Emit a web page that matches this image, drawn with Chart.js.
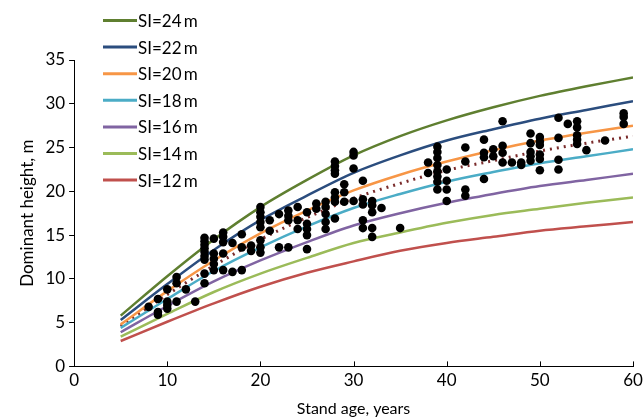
<!DOCTYPE html>
<html>
<head>
<meta charset="utf-8">
<script src="https://cdn.jsdelivr.net/npm/chart.js@4/dist/chart.umd.min.js"></script>
<style>
  html, body { margin: 0; padding: 0; background: #fff; }
</style>
</head>
<body>
<canvas id="chart" width="643" height="418"></canvas>
<script>
// site index curves, read at 5-year steps
const ages = [5, 10, 15, 20, 25, 30, 35, 40, 45, 50, 55, 60];
const si24 = [5.8, 10.3, 14.5, 18.2, 21.3, 24.1, 26.3, 28.1, 29.6, 30.9, 32.0, 33.0];
const si22 = [5.3, 9.4, 13.3, 16.7, 19.5, 22.1, 24.1, 25.8, 27.1, 28.3, 29.3, 30.3];
const si20 = [4.8, 8.6, 12.1, 15.2, 17.8, 20.1, 21.9, 23.4, 24.7, 25.8, 26.7, 27.5];
const si18 = [4.4, 7.7, 10.9, 13.6, 16.0, 18.1, 19.7, 21.1, 22.2, 23.2, 24.0, 24.8];
const si16 = [3.9, 6.9, 9.7, 12.1, 14.2, 16.1, 17.5, 18.7, 19.7, 20.6, 21.3, 22.0];
const si14 = [3.4, 6.0, 8.5, 10.6, 12.4, 14.1, 15.3, 16.4, 17.3, 18.0, 18.7, 19.3];
const si12 = [2.9, 5.1, 7.2, 9.1, 10.7, 12.0, 13.2, 14.1, 14.8, 15.5, 16.0, 16.5];
const meanCurve = [4.6, 8.2, 11.5, 14.5, 17.0, 19.2, 20.9, 22.4, 23.5, 24.6, 25.5, 26.3];

// observed plots
const obsAge = [
  8, 9, 9, 9, 10, 10, 10, 10, 11, 11, 11, 12, 13,
  14, 14, 14, 14, 14, 14, 14, 14, 14,
  15, 15, 15, 15, 15, 16, 16, 16, 16, 16, 17, 17, 18, 18, 18, 19, 19,
  20, 20, 20, 20, 20, 20, 20, 20, 21, 21, 22, 22, 23, 23, 23, 23,
  24, 24, 24, 25, 25, 25, 25, 25, 26, 26, 27, 27, 27, 27, 27,
  28, 28, 28, 28, 28, 28, 28, 28, 29, 29, 29, 30, 30, 30, 30,
  31, 31, 31, 31, 31, 32, 32, 32, 32, 32, 33, 35, 38, 38,
  39, 39, 39, 39, 39, 39, 39, 39, 40, 40, 40, 40, 42, 42, 42, 42,
  44, 44, 44, 44, 45, 45, 46, 46, 46, 46, 47, 48, 48,
  49, 49, 49, 49, 49, 50, 50, 50, 50, 50, 50,
  52, 52, 52, 52, 53, 54, 54, 54, 54, 54, 55, 57, 59, 59, 59
];
const obsHeight = [
  6.8, 7.7, 6.2, 5.9, 8.8, 7.4, 7.0, 6.6, 10.2, 9.5, 7.4, 8.8, 7.4,
  14.7, 14.3, 13.9, 13.5, 13.1, 12.6, 12.2, 10.6, 9.5,
  14.6, 12.9, 12.3, 11.7, 11.0, 15.3, 14.8, 14.2, 12.9, 11.0, 14.1, 10.8, 15.1, 13.6, 11.0, 13.8, 13.2,
  18.2, 17.6, 17.1, 16.5, 15.9, 14.4, 13.6, 13.0, 16.7, 15.5, 17.4, 13.6, 17.8, 17.2, 16.7, 13.6,
  18.2, 16.7, 15.7, 17.6, 16.3, 15.7, 15.0, 13.4, 18.6, 18.0, 18.8, 18.2, 17.4, 16.5, 15.7,
  23.4, 22.9, 22.4, 22.0, 19.9, 19.3, 18.8, 16.9, 20.8, 19.9, 18.8, 24.5, 24.1, 22.6, 18.9,
  21.2, 19.1, 18.5, 16.7, 15.8, 18.9, 18.4, 17.6, 15.8, 14.8, 18.1, 15.8, 23.3, 22.1,
  25.1, 24.5, 23.8, 23.0, 22.3, 21.7, 21.1, 20.2, 22.5, 21.2, 20.2, 18.9, 25.0, 23.4, 20.2, 19.5,
  25.9, 24.4, 23.9, 21.4, 24.8, 24.0, 28.0, 25.2, 24.4, 23.3, 23.3, 23.3, 23.0,
  26.6, 25.5, 24.5, 24.0, 23.5, 26.2, 25.7, 25.3, 24.2, 23.7, 22.4,
  28.4, 26.1, 23.6, 22.5, 27.7, 28.0, 27.3, 26.4, 25.9, 25.4, 24.7, 25.8, 28.9, 28.5, 27.7
];

const xTicks = [0, 10, 20, 30, 40, 50, 60];
const yTicks = [0, 5, 10, 15, 20, 25, 30, 35];

const FONT = "Lato, 'Liberation Sans', sans-serif";

function curve(label, values, color, dash) {
  return {
    type: "line",
    label: label,
    data: ages.map((a, i) => ({ x: a, y: values[i] })),
    borderColor: color,
    backgroundColor: color,
    borderWidth: dash ? 3 : 2.5,
    borderDash: dash || [],
    pointRadius: 0,
    fill: false,
    cubicInterpolationMode: "monotone",
    order: 2,
    inLegend: !dash,
  };
}

const curves = [
  curve("SI=24\u2009m", si24, "#5F7F30"),
  curve("SI=22\u2009m", si22, "#2B4D7E"),
  curve("SI=20\u2009m", si20, "#F79646"),
  curve("SI=18\u2009m", si18, "#4BACC6"),
  curve("SI=16\u2009m", si16, "#8064A2"),
  curve("SI=14\u2009m", si14, "#9BBB59"),
  curve("SI=12\u2009m", si12, "#C0504D"),
  curve("mean", meanCurve, "#7A2B2B", [2, 5]),
];

// legend sitting over the plot, top left
const sideLegend = {
  id: "sideLegend",
  afterDraw(chart) {
    const ctx = chart.ctx;
    ctx.save();
    ctx.font = "17px " + FONT;
    ctx.textBaseline = "middle";
    ctx.textAlign = "left";
    let row = 0;
    chart.data.datasets.forEach((ds) => {
      if (!ds.inLegend) return;
      const y = 20.5 + row * 26.6;
      ctx.strokeStyle = ds.borderColor;
      ctx.lineWidth = 3;
      ctx.beginPath();
      ctx.moveTo(103, y);
      ctx.lineTo(137, y);
      ctx.stroke();
      ctx.fillStyle = "#000";
      ctx.fillText(ds.label, 138, y + 1);
      row++;
    });
    ctx.restore();
  },
};

// x ticks point up into the plot
const innerTicks = {
  id: "innerTicks",
  afterDraw(chart) {
    const ctx = chart.ctx;
    const xs = chart.scales.x;
    const bottom = chart.chartArea.bottom;
    ctx.save();
    ctx.strokeStyle = "#000";
    ctx.lineWidth = 1;
    xTicks.forEach((v) => {
      const px = Math.round(xs.getPixelForValue(v)) + 0.5;
      ctx.beginPath();
      ctx.moveTo(px, bottom);
      ctx.lineTo(px, bottom - 5);
      ctx.stroke();
    });
    ctx.restore();
  },
};

new Chart(document.getElementById("chart").getContext("2d"), {
  type: "scatter",
  data: {
    datasets: [
      {
        type: "scatter",
        label: "observed",
        data: obsAge.map((a, i) => ({ x: a, y: obsHeight[i] })),
        backgroundColor: "#000",
        borderColor: "#000",
        pointRadius: 4.3,
        pointBorderWidth: 0,
        order: 1,
        inLegend: false,
      },
      ...curves,
    ],
  },
  options: {
    responsive: false,
    animation: false,
    layout: { padding: { top: 60, right: 0, left: 17, bottom: 0 } },
    plugins: {
      legend: { display: false },
      tooltip: { enabled: false },
    },
    scales: {
      x: {
        type: "linear",
        min: 0,
        max: 60,
        afterBuildTicks: (s) => { s.ticks = xTicks.map((v) => ({ value: v })); },
        afterFit: (s) => { s.paddingRight = 10; },
        grid: { display: false, drawTicks: false },
        border: { display: true, color: "#000", width: 1 },
        ticks: { color: "#000", font: { family: FONT, size: 17 }, padding: 4 },
        title: {
          display: true,
          text: "Stand age, years",
          color: "#000",
          font: { family: FONT, size: 16 },
          padding: { top: 4, bottom: 0 },
        },
      },
      y: {
        type: "linear",
        min: 0,
        max: 35,
        afterBuildTicks: (s) => { s.ticks = yTicks.map((v) => ({ value: v })); },
        grid: { drawOnChartArea: false, tickLength: 5, color: "#000" },
        border: { display: true, color: "#000", width: 1 },
        ticks: { color: "#000", font: { family: FONT, size: 17 }, padding: 4 },
        title: {
          display: true,
          text: "Dominant height, m",
          color: "#000",
          font: { family: FONT, size: 17 },
          padding: { top: 0, bottom: 4 },
        },
      },
    },
  },
  plugins: [sideLegend, innerTicks],
});
</script>
</body>
</html>
